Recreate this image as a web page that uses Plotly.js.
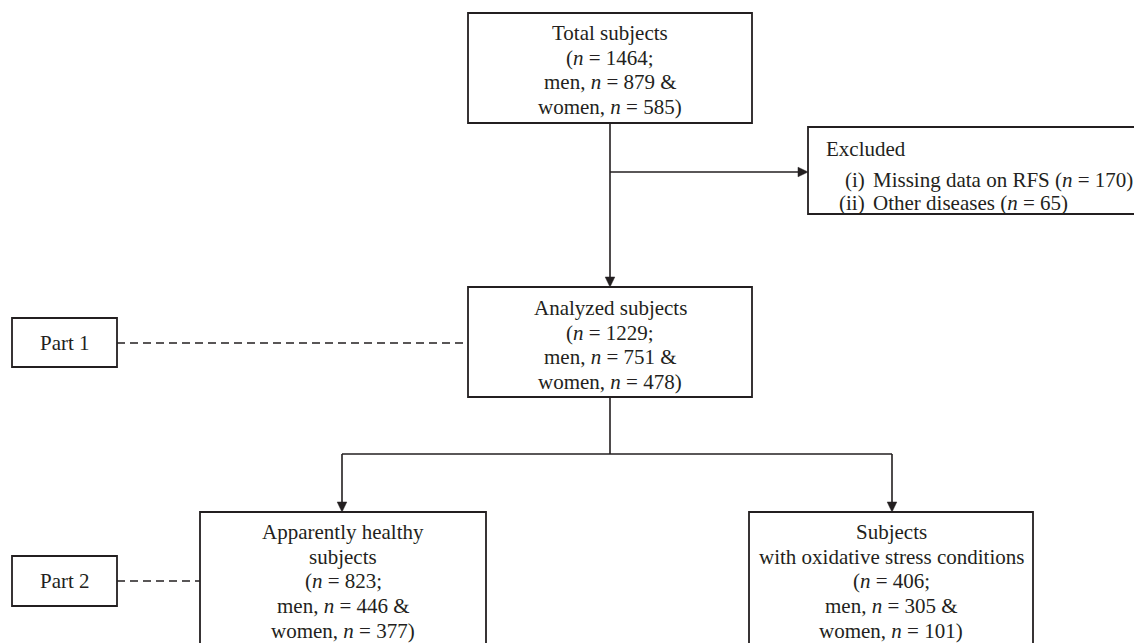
<!DOCTYPE html>
<html>
<head>
<meta charset="utf-8">
<script src="https://cdn.plot.ly/plotly-3.0.1.min.js"></script>
<style>html,body{margin:0;padding:0;background:#fff;}#chart{width:1134px;height:643px;}</style>
</head>
<body>
<div id="chart"></div>
<script>
// ---- data ----
const nodeTitles = ['Total subjects', 'Analyzed subjects', 'Apparently healthy|subjects', 'Subjects|with oxidative stress conditions'];
const nTotal = [1464, 1229, 823, 406];
const nMen = [879, 751, 446, 305];
const nWomen = [585, 478, 377, 101];
const excludedTitle = 'Excluded';
const excludedLabels = ['(i)', '(ii)'];
const excludedReasons = ['Missing data on RFS', 'Other diseases'];
const excludedN = [170, 65];
const partLabels = ['Part 1', 'Part 2'];

// ---- layout geometry (pixel space) ----
const INK = '#231f20';
const FONT = 'Liberation Serif, Times New Roman, serif';
const FS = 21;
const LH = 24.7;
const nodeBoxes = [
  {x0: 468, x1: 752, y0: 13, y1: 123, ty: 33},
  {x0: 468, x1: 752, y0: 287, y1: 397, ty: 308},
  {x0: 200, x1: 486, y0: 512, y1: 680, ty: 532},
  {x0: 749, x1: 1033, y0: 512, y1: 680, ty: 532}
];
const exclBox = {x0: 808, x1: 1150, y0: 127, y1: 214};
const partBoxes = [
  {x0: 12, x1: 117, y0: 318, y1: 367},
  {x0: 12, x1: 117, y0: 556, y1: 606}
];

const shapes = [];
const annotations = [];

function rect(b, w) {
  shapes.push({type: 'rect', xref: 'x', yref: 'y', x0: b.x0, x1: b.x1, y0: b.y0, y1: b.y1,
    line: {color: INK, width: w || 1.8}, fillcolor: 'rgba(0,0,0,0)'});
}
function line(x0, y0, x1, y1, dash) {
  shapes.push({type: 'line', xref: 'x', yref: 'y', x0: x0, y0: y0, x1: x1, y1: y1,
    line: {color: INK, width: 1.6, dash: dash || 'solid'}});
}
function arrowHead(x, y, dir) {
  let p;
  if (dir === 'down') p = `M ${x - 4.8},${y - 10} L ${x + 4.8},${y - 10} L ${x},${y} Z`;
  else p = `M ${x - 10},${y - 4.8} L ${x - 10},${y + 4.8} L ${x},${y} Z`;
  shapes.push({type: 'path', xref: 'x', yref: 'y', path: p, fillcolor: INK, line: {color: INK, width: 0.5}});
}
function text(t, x, y, anchor) {
  annotations.push({text: t, x: x, y: y, xref: 'x', yref: 'y', showarrow: false,
    xanchor: anchor || 'center', yanchor: 'middle', font: {family: FONT, size: FS, color: INK}});
}

// nodes
nodeTitles.forEach((title, i) => {
  const b = nodeBoxes[i];
  rect(b);
  const lines = title.split('|').concat([
    `(<i>n</i> = ${nTotal[i]};`,
    `men, <i>n</i> = ${nMen[i]} &`,
    `women, <i>n</i> = ${nWomen[i]})`
  ]);
  const cx = (b.x0 + b.x1) / 2;
  lines.forEach((l, k) => text(l, cx, b.ty + k * LH));
});

// excluded box
rect(exclBox);
text(excludedTitle, 824, 149, 'left');
excludedLabels.forEach((lab, k) => {
  const y = 180 + k * 22.5;
  text(lab, 867, y, 'right');
  text(`${excludedReasons[k]} (<i>n</i> = ${excludedN[k]})`, 871, y, 'left');
});

// part boxes
partLabels.forEach((p, k) => {
  const b = partBoxes[k];
  rect(b);
  text(p, (b.x0 + b.x1) / 2, (b.y0 + b.y1) / 2);
});

// connectors
const cTop = (nodeBoxes[0].x0 + nodeBoxes[0].x1) / 2;
line(cTop, nodeBoxes[0].y1, cTop, nodeBoxes[1].y0 - 9);
arrowHead(cTop, nodeBoxes[1].y0, 'down');
line(cTop, 172, exclBox.x0 - 9, 172);
arrowHead(exclBox.x0, 172, 'right');
const branchY = 454;
const lx = 342, rx = 892;
line(cTop, nodeBoxes[1].y1, cTop, branchY);
line(lx, branchY, rx, branchY);
line(lx, branchY, lx, nodeBoxes[2].y0 - 9);
arrowHead(lx, nodeBoxes[2].y0, 'down');
line(rx, branchY, rx, nodeBoxes[3].y0 - 9);
arrowHead(rx, nodeBoxes[3].y0, 'down');
// dashed part links
line(partBoxes[0].x1, 343, nodeBoxes[1].x0, 343, '8px,5px');
line(partBoxes[1].x1, 581, nodeBoxes[2].x0, 581, '8px,5px');

const layout = {
  width: 1134, height: 643,
  margin: {l: 0, r: 0, t: 0, b: 0},
  paper_bgcolor: '#fff', plot_bgcolor: '#fff',
  xaxis: {range: [0, 1134], visible: false, fixedrange: true},
  yaxis: {range: [643, 0], visible: false, fixedrange: true},
  shapes: shapes,
  annotations: annotations,
  showlegend: false
};
Plotly.newPlot('chart', [{x: [], y: [], type: 'scatter', mode: 'markers', hoverinfo: 'skip'}], layout, {staticPlot: true, displayModeBar: false});
</script>
</body>
</html>
